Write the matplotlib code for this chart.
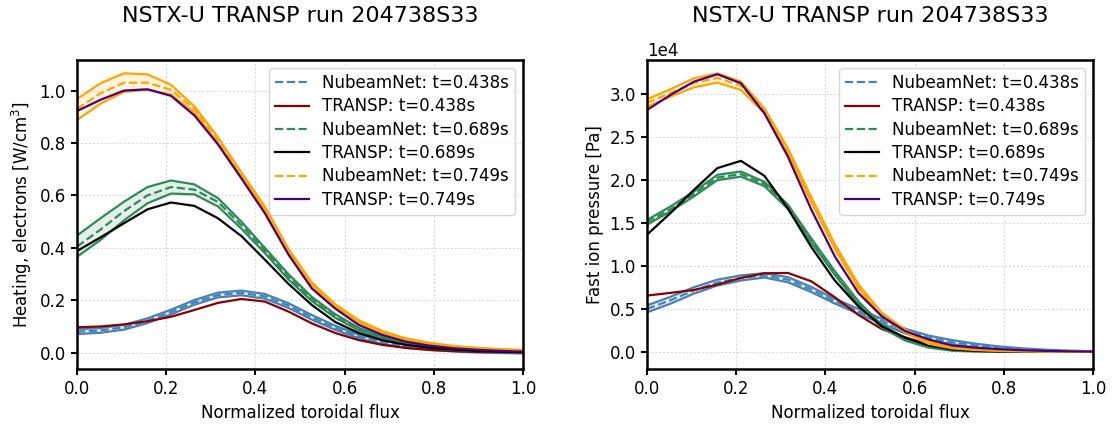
import numpy as np
import matplotlib
matplotlib.use("Agg")
from matplotlib import pyplot as plt

plt.rcParams["font.size"] = 12

x = np.linspace(0, 1, 20)
times = ["0.438", "0.689", "0.749"]
net_colors = ["steelblue", "seagreen", "orange"]
transp_colors = ["darkred", "black", "indigo"]

# left panel: electron heating [W/cm^3]
heat_net_mean = [
    [0.080, 0.085, 0.097, 0.122, 0.155, 0.192, 0.220, 0.228, 0.215, 0.180, 0.135, 0.095, 0.062, 0.040, 0.025, 0.015, 0.009, 0.005, 0.002, 0.000],
    [0.405, 0.470, 0.540, 0.600, 0.632, 0.622, 0.575, 0.487, 0.390, 0.290, 0.205, 0.140, 0.090, 0.058, 0.037, 0.022, 0.013, 0.008, 0.005, 0.003],
    [0.930, 0.990, 1.030, 1.030, 1.003, 0.930, 0.810, 0.680, 0.550, 0.390, 0.262, 0.180, 0.120, 0.080, 0.052, 0.035, 0.024, 0.017, 0.012, 0.009],
]
heat_net_hi = [
    [0.089, 0.094, 0.106, 0.131, 0.164, 0.201, 0.229, 0.237, 0.224, 0.189, 0.144, 0.103, 0.069, 0.047, 0.031, 0.020, 0.013, 0.009, 0.005, 0.003],
    [0.447, 0.513, 0.576, 0.632, 0.657, 0.642, 0.590, 0.500, 0.400, 0.300, 0.213, 0.147, 0.095, 0.062, 0.040, 0.024, 0.015, 0.009, 0.006, 0.004],
    [0.968, 1.028, 1.066, 1.062, 1.022, 0.940, 0.822, 0.688, 0.558, 0.397, 0.268, 0.185, 0.124, 0.083, 0.055, 0.038, 0.026, 0.019, 0.014, 0.011],
]
heat_net_lo = [
    [0.071, 0.076, 0.088, 0.113, 0.146, 0.183, 0.211, 0.219, 0.206, 0.171, 0.126, 0.087, 0.055, 0.033, 0.019, 0.010, 0.005, 0.001, -0.001, -0.003],
    [0.366, 0.430, 0.505, 0.570, 0.607, 0.604, 0.558, 0.473, 0.380, 0.280, 0.197, 0.133, 0.085, 0.054, 0.034, 0.020, 0.011, 0.007, 0.004, 0.002],
    [0.888, 0.950, 0.995, 1.003, 0.985, 0.917, 0.800, 0.672, 0.542, 0.383, 0.256, 0.175, 0.116, 0.077, 0.049, 0.032, 0.022, 0.015, 0.010, 0.007],
]
heat_transp = [
    [0.097, 0.100, 0.108, 0.120, 0.137, 0.163, 0.190, 0.205, 0.195, 0.157, 0.112, 0.075, 0.048, 0.030, 0.018, 0.011, 0.006, 0.003, 0.002, 0.001],
    [0.388, 0.440, 0.494, 0.547, 0.573, 0.560, 0.513, 0.445, 0.355, 0.263, 0.182, 0.117, 0.075, 0.048, 0.030, 0.019, 0.012, 0.007, 0.004, 0.002],
    [0.922, 0.965, 1.000, 1.005, 0.980, 0.905, 0.795, 0.665, 0.532, 0.375, 0.245, 0.168, 0.106, 0.068, 0.042, 0.027, 0.017, 0.011, 0.007, 0.004],
]

# right panel: fast ion pressure [1e4 Pa]
pres_net_mean = [
    [0.500, 0.600, 0.715, 0.806, 0.860, 0.890, 0.840, 0.725, 0.590, 0.472, 0.356, 0.240, 0.163, 0.112, 0.073, 0.045, 0.027, 0.015, 0.008, 0.003],
    [1.510, 1.660, 1.840, 2.030, 2.070, 1.955, 1.690, 1.296, 0.918, 0.570, 0.298, 0.143, 0.058, 0.019, 0.007, 0.003, 0.001, 0.000, 0.000, 0.000],
    [2.900, 3.015, 3.130, 3.190, 3.100, 2.810, 2.343, 1.771, 1.228, 0.763, 0.434, 0.240, 0.105, 0.050, 0.027, 0.015, 0.008, 0.004, 0.002, 0.001],
]
pres_net_hi = [
    [0.540, 0.640, 0.752, 0.840, 0.890, 0.915, 0.870, 0.755, 0.618, 0.500, 0.384, 0.268, 0.188, 0.136, 0.094, 0.062, 0.040, 0.024, 0.014, 0.006],
    [1.536, 1.693, 1.867, 2.062, 2.100, 1.980, 1.715, 1.320, 0.940, 0.590, 0.315, 0.156, 0.068, 0.026, 0.012, 0.006, 0.003, 0.002, 0.001, 0.001],
    [2.942, 3.058, 3.186, 3.244, 3.147, 2.837, 2.372, 1.800, 1.255, 0.788, 0.455, 0.258, 0.118, 0.060, 0.034, 0.020, 0.012, 0.007, 0.004, 0.002],
]
pres_net_lo = [
    [0.460, 0.560, 0.678, 0.772, 0.830, 0.865, 0.810, 0.695, 0.562, 0.444, 0.328, 0.212, 0.138, 0.088, 0.052, 0.028, 0.014, 0.006, 0.002, 0.000],
    [1.480, 1.635, 1.810, 2.000, 2.040, 1.930, 1.665, 1.272, 0.896, 0.550, 0.281, 0.130, 0.048, 0.012, 0.002, 0.000, -0.001, -0.002, -0.001, -0.001],
    [2.856, 2.972, 3.081, 3.135, 3.050, 2.779, 2.314, 1.742, 1.201, 0.738, 0.413, 0.222, 0.092, 0.040, 0.020, 0.010, 0.004, 0.001, 0.000, 0.000],
]
pres_transp = [
    [0.655, 0.686, 0.720, 0.783, 0.860, 0.915, 0.918, 0.821, 0.635, 0.430, 0.265, 0.168, 0.085, 0.040, 0.017, 0.008, 0.004, 0.002, 0.001, 0.000],
    [1.364, 1.616, 1.887, 2.140, 2.224, 2.050, 1.670, 1.220, 0.830, 0.530, 0.298, 0.163, 0.073, 0.027, 0.010, 0.004, 0.002, 0.001, 0.000, 0.000],
    [2.817, 2.992, 3.147, 3.233, 3.128, 2.779, 2.274, 1.655, 1.112, 0.686, 0.414, 0.240, 0.143, 0.073, 0.047, 0.030, 0.018, 0.010, 0.005, 0.002],
]


def draw_panel(ax, mean, lo, hi, transp, scale=1.0):
    for k in range(3):
        c = net_colors[k]
        m = np.array(mean[k]) * scale
        l = np.array(lo[k]) * scale
        h = np.array(hi[k]) * scale
        ax.fill_between(x, l, h, color=c, alpha=0.12, lw=0)
        ax.plot(x, l, color=c, lw=1.6)
        ax.plot(x, h, color=c, lw=1.6)
        ax.plot(x, m, color=c, lw=1.6, ls="--", label="NubeamNet: t=%ss" % times[k])
        ax.plot(x, np.array(transp[k]) * scale, color=transp_colors[k], lw=1.6,
                label="TRANSP: t=%ss" % times[k])
    ax.set_xlim(0, 1)
    ax.set_xlabel("Normalized toroidal flux")
    ax.set_title("NSTX-U TRANSP run 204738S33", fontsize=16, pad=27)
    ax.grid(True, color="#d8d8d8", ls=(0, (2, 2)), lw=0.7)
    ax.set_axisbelow(True)
    for s in ax.spines.values():
        s.set_linewidth(1.8)
    ax.tick_params(width=1.5, length=4.5)
    ax.legend(loc="upper right", labelspacing=0.32, borderpad=0.35)


fig, (ax1, ax2) = plt.subplots(1, 2, figsize=(11.17, 4.28), dpi=100)
fig.subplots_adjust(left=0.069, right=0.9785, bottom=0.138, top=0.86, wspace=0.278)

draw_panel(ax1, heat_net_mean, heat_net_lo, heat_net_hi, heat_transp)
ax1.set_ylim(-0.062, 1.117)
ax1.set_ylabel("Heating, electrons [W/cm$^3$]")

draw_panel(ax2, pres_net_mean, pres_net_lo, pres_net_hi, pres_transp, scale=1e4)
ax2.set_ylim(-0.2e4, 3.4e4)
ax2.ticklabel_format(axis="y", style="sci", scilimits=(0, 0))
ax2.set_ylabel("Fast ion pressure [Pa]")

fig.savefig("out.png", dpi=100)
